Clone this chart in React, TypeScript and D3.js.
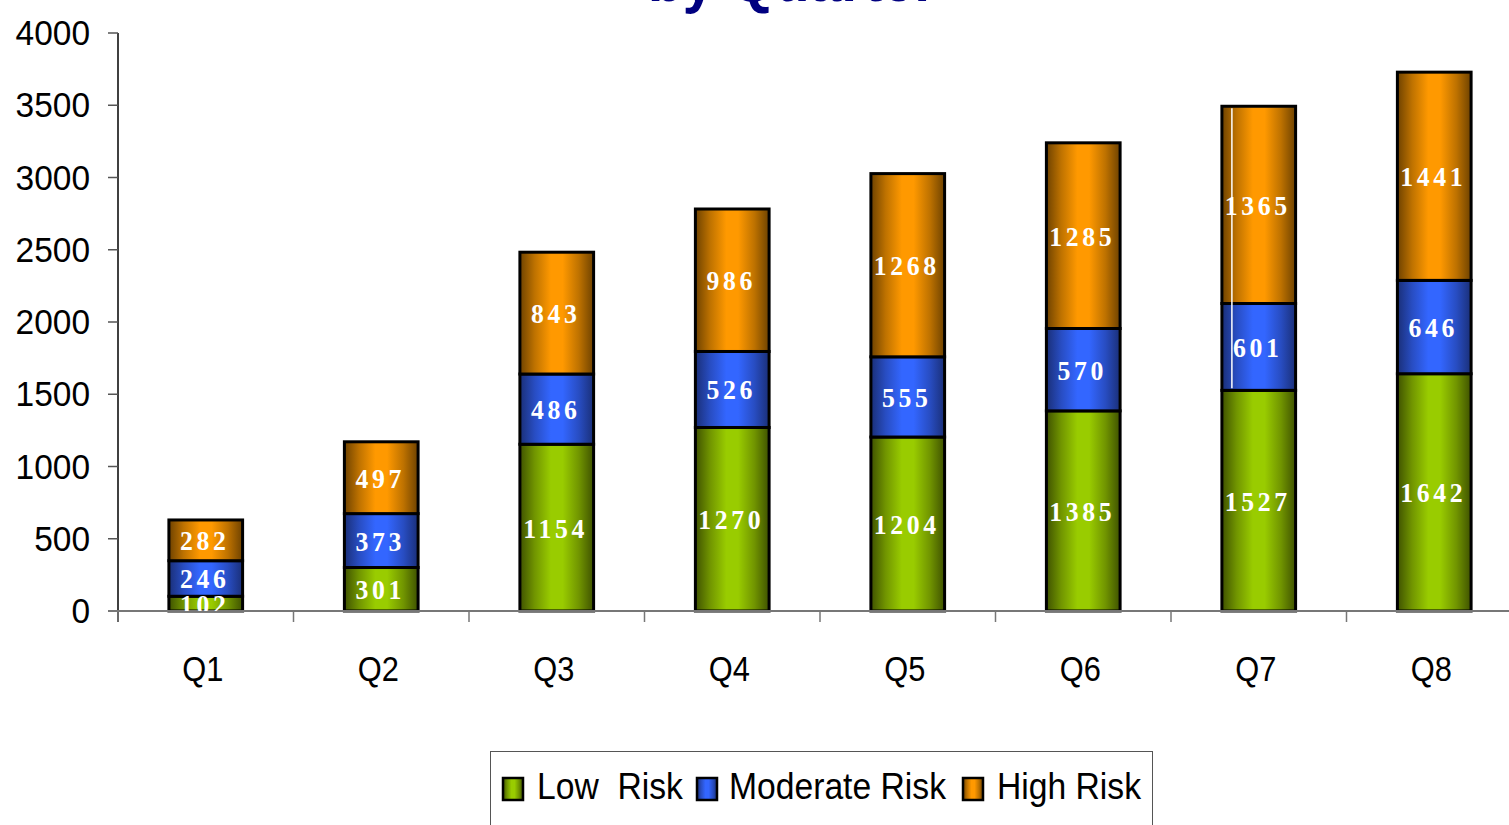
import React from "react";
import * as d3 from "d3";

// Quarterly counts per risk level
const quarters = ["Q1", "Q2", "Q3", "Q4", "Q5", "Q6", "Q7", "Q8"];
const lowRisk = [102, 301, 1154, 1270, 1204, 1385, 1527, 1642];
const moderateRisk = [246, 373, 486, 526, 555, 570, 601, 646];
const highRisk = [282, 497, 843, 986, 1268, 1285, 1365, 1441];
const yTicks = [0, 500, 1000, 1500, 2000, 2500, 3000, 3500, 4000];
const seriesNames = ["Low  Risk", "Moderate Risk", "High Risk"];

const W = 1509;
const H = 825;
const plotLeft = 118;
const plotRight = 1522;
const plotTop = 33;
const plotBottom = 611;

const palettes = [
  { id: "gLow", bright: "#99cc00", dark: "#3f5200" },
  { id: "gMod", bright: "#3366ff", dark: "#1a2f78" },
  { id: "gHigh", bright: "#ff9900", dark: "#6e4200" },
];

export default function App() {
  const x = d3
    .scaleBand<string>()
    .domain(quarters)
    .range([plotLeft, plotRight])
    .paddingInner(0.58)
    .paddingOuter(0.29);
  const y = d3.scaleLinear().domain([0, 4000]).range([plotBottom, plotTop]);

  const rows = quarters.map((q, i) => ({
    q,
    low: lowRisk[i],
    mod: moderateRisk[i],
    high: highRisk[i],
  }));
  const stack = d3.stack<any>().keys(["low", "mod", "high"]);
  const layers = stack(rows);

  const step = x.step();
  const boundaries = d3.range(quarters.length + 1).map((i) => plotLeft + i * step);

  const legendItems = [
    { sw: 503, tx: 537 },
    { sw: 697, tx: 729 },
    { sw: 963, tx: 997 },
  ];

  // Q7 column carries a thin highlight line through the upper segments
  const q7x = (x("Q7") as number) + 10;

  return (
    <svg width={W} height={H} style={{ position: "absolute", left: 0, top: 0, background: "#fff" }}>
      <defs>
        {palettes.map((p) => (
          <linearGradient key={p.id} id={p.id} x1="0" x2="1" y1="0" y2="0">
            <stop offset="0" stopColor={p.dark} />
            <stop offset="0.2" stopColor={d3.interpolateRgb(p.dark, p.bright)(0.55)} />
            <stop offset="0.42" stopColor={p.bright} />
            <stop offset="0.58" stopColor={p.bright} />
            <stop offset="0.8" stopColor={d3.interpolateRgb(p.dark, p.bright)(0.55)} />
            <stop offset="1" stopColor={p.dark} />
          </linearGradient>
        ))}
        <clipPath id="plotClip">
          <rect x={plotLeft} y={0} width={plotRight - plotLeft} height={plotBottom} />
        </clipPath>
      </defs>

      {/* title */}
      <text
        transform="translate(648,0.5) scale(0.92,1)"
        fontFamily="Arial, 'Liberation Sans', sans-serif"
        fontWeight="bold"
        fontSize={62}
        fill="#000080"
      >
        by Quarter
      </text>

      {/* y axis */}
      <line x1={plotLeft} x2={plotLeft} y1={plotTop} y2={622} stroke="#000" strokeWidth={1.5} />
      {yTicks.map((t) => (
        <g key={t}>
          <line x1={108} x2={plotLeft} y1={y(t)} y2={y(t)} stroke="#555" strokeWidth={1.5} />
          <text
            transform={`translate(90,${y(t) + 12}) scale(0.93,1)`}
            textAnchor="end"
            fontFamily="Arial, 'Liberation Sans', sans-serif"
            fontSize={36}
            fill="#000"
          >
            {t}
          </text>
        </g>
      ))}

      {/* bars */}
      {layers.map((layer, li) => (
        <g key={layer.key}>
          {layer.map((d, i) => (
            <rect
              key={i}
              x={x(quarters[i])}
              width={x.bandwidth()}
              y={y(d[1])}
              height={y(d[0]) - y(d[1])}
              fill={`url(#${palettes[li].id})`}
              stroke="#000"
              strokeWidth={3}
            />
          ))}
        </g>
      ))}

      <line
        x1={q7x}
        x2={q7x}
        y1={y(layers[2][6][1]) + 2}
        y2={y(layers[1][6][0]) - 2}
        stroke="#fff"
        strokeWidth={1.5}
      />

      {/* x axis */}
      <line x1={108} x2={W} y1={plotBottom} y2={plotBottom} stroke="#777" strokeWidth={2} />
      {boundaries.map((b, i) => (
        <line key={i} x1={b} x2={b} y1={plotBottom} y2={622} stroke="#777" strokeWidth={1.5} />
      ))}

      {/* value labels */}
      <g clipPath="url(#plotClip)">
        {layers.map((layer) =>
          layer.map((d, i) => (
            <text
              key={layer.key + i}
              transform={`translate(${(x(quarters[i]) as number) + x.bandwidth() / 2 - 1},${
                (y(d[0]) + y(d[1])) / 2 + 10
              }) scale(0.92,1)`}
              textAnchor="middle"
              fontFamily="'Times New Roman', 'Liberation Serif', serif"
              fontWeight="bold"
              fontSize={28}
              letterSpacing={4}
              fill="#fff"
            >
              {d[1] - d[0]}
            </text>
          ))
        )}
      </g>

      {/* category labels */}
      {quarters.map((q) => (
        <text
          key={q}
          transform={`translate(${(x(q) as number) + x.bandwidth() / 2 - 3},681) scale(0.88,1)`}
          textAnchor="middle"
          fontFamily="Arial, 'Liberation Sans', sans-serif"
          fontSize={35}
          fill="#000"
        >
          {q}
        </text>
      ))}

      {/* legend */}
      <rect x={490.5} y={751.5} width={662} height={100} fill="#fff" stroke="#555" strokeWidth={1} />
      {seriesNames.map((name, i) => (
        <g key={name}>
          <rect
            x={legendItems[i].sw}
            y={778}
            width={20}
            height={22}
            fill={`url(#${palettes[i].id})`}
            stroke="#000"
            strokeWidth={2.5}
          />
          <text
            transform={`translate(${legendItems[i].tx},799) scale(0.91,1)`}
            fontFamily="Arial, 'Liberation Sans', sans-serif"
            fontSize={37}
            fill="#000"
            style={{ whiteSpace: "pre" }}
          >
            {name}
          </text>
        </g>
      ))}
    </svg>
  );
}
